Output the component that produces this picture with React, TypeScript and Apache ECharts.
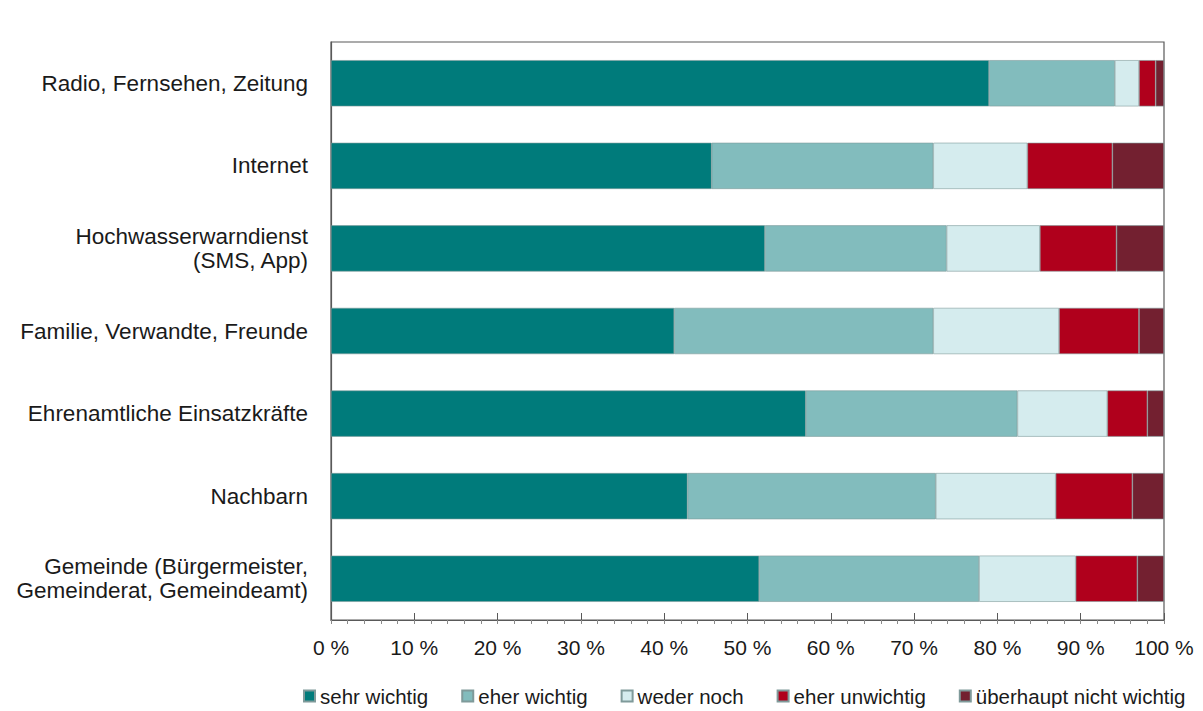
import React, { useEffect, useRef } from "react";
import * as echarts from "echarts";

const categories = [
  "Radio, Fernsehen, Zeitung",
  "Internet",
  "Hochwasserwarndienst\n(SMS, App)",
  "Familie, Verwandte, Freunde",
  "Ehrenamtliche Einsatzkräfte",
  "Nachbarn",
  "Gemeinde (Bürgermeister,\nGemeinderat, Gemeindeamt)",
];

const seriesNames = [
  "sehr wichtig",
  "eher wichtig",
  "weder noch",
  "eher unwichtig",
  "überhaupt nicht wichtig",
];

const sehrWichtig = [79.0, 45.7, 52.1, 41.2, 57.0, 42.8, 51.4];
const eherWichtig = [15.1, 26.6, 21.8, 31.1, 25.4, 29.8, 26.4];
const wederNoch = [2.9, 11.3, 11.2, 15.1, 10.8, 14.4, 11.6];
const eherUnwichtig = [2.0, 10.2, 9.2, 9.6, 4.8, 9.2, 7.4];
const ueberhauptNicht = [1.0, 6.2, 5.7, 3.0, 2.0, 3.8, 3.2];

const colors = ["#007b7b", "#82bcbd", "#d5ecee", "#b0001c", "#732030"];

export default function App() {
  const ref = useRef<HTMLDivElement>(null);
  useEffect(() => {
    if (!ref.current) return;
    const chart = echarts.init(ref.current, undefined, { renderer: "svg" });
    const values = [sehrWichtig, eherWichtig, wederNoch, eherUnwichtig, ueberhauptNicht];
    const font = "Liberation Sans, Arial, sans-serif";
    chart.setOption({
      animation: false,
      textStyle: { fontFamily: font },
      grid: {
        left: 331,
        right: 39,
        top: 42,
        bottom: 91,
        show: true,
        borderColor: "#595959",
        borderWidth: 1.2,
        containLabel: false,
      },
      legend: {
        data: seriesNames,
        left: 303,
        top: 685,
        padding: 0,
        icon: "rect",
        itemWidth: 11,
        itemHeight: 11,
        itemGap: 33,
        textStyle: { fontSize: 20.5, lineHeight: 22, color: "#1a1a1a", fontFamily: font },
      },
      xAxis: [
        {
          type: "value",
          min: 0,
          max: 100,
          interval: 10,
          position: "bottom",
          axisLine: { show: true, lineStyle: { color: "#595959", width: 1.2 } },
          axisTick: { show: true, inside: true, length: 7, lineStyle: { color: "#595959" } },
          splitLine: { show: false },
          axisLabel: {
            formatter: (v: number) => `${v} %`,
            fontSize: 21,
            color: "#1a1a1a",
            margin: 17,
            fontFamily: font,
          },
        },
        {
          type: "value",
          min: 0,
          max: 100,
          interval: 2,
          position: "bottom",
          axisLine: { show: false },
          axisTick: { show: true, length: 4, lineStyle: { color: "#8a8a8a" } },
          splitLine: { show: false },
          axisLabel: { show: false },
        },
      ],
      yAxis: {
        type: "category",
        data: categories,
        inverse: true,
        axisLine: { show: true, lineStyle: { color: "#595959", width: 1.2 } },
        axisTick: { show: false },
        axisLabel: {
          fontSize: 22.5,
          lineHeight: 24,
          color: "#1a1a1a",
          margin: 23,
          align: "right",
          fontFamily: font,
        },
      },
      series: seriesNames.map((name, i) => ({
        name,
        type: "bar",
        stack: "total",
        xAxisIndex: 0,
        barWidth: "56%",
        data: values[i],
        itemStyle: {
          color: colors[i],
          borderColor: "#7f9a9a",
          borderWidth: 0.6,
        },
      })),
    });
    return () => chart.dispose();
  }, []);
  return <div ref={ref} style={{ width: 1203, height: 711, position: "absolute", left: 0, top: 0, background: "#fff" }} />;
}
